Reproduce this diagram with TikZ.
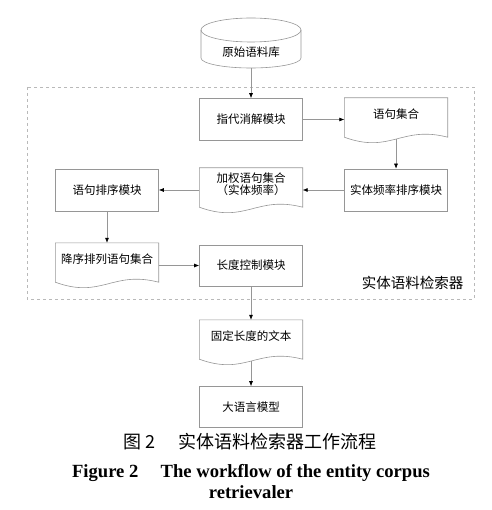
\documentclass[tikz,border=0pt]{standalone}
\usepackage{fontspec}
\setmainfont{Liberation Serif}
\newfontfamily\cjk{Noto Sans CJK SC}
\usetikzlibrary{calc,arrows.meta}
\definecolor{framegray}{RGB}{150,150,150}
\definecolor{dashgray}{RGB}{185,185,185}
\tikzset{
  module/.style={draw=framegray, line width=.6pt, minimum width=103pt, minimum height=42pt, inner sep=0pt, font=\cjk\fontsize{11.5}{14}\selectfont},
  docbox/.style={minimum width=103pt, minimum height=32pt, inner sep=0pt, align=center, font=\cjk\fontsize{11.5}{12.5}\selectfont},
  flow/.style={draw=framegray, line width=.6pt, -{Latex[black,length=5pt,width=4pt]}},
}
% outline of a document node, wavy bottom
\newcommand{\docoutline}[1]{%
  \draw[framegray, line width=.6pt] (#1.north west) -- ($(#1.south west)+(0,7)$)
    .. controls ($(#1.south west)!.45!(#1.south east)+(0,24)$) and ($(#1.south west)!.55!(#1.south east)+(0,-5)$)
    .. ($(#1.south east)+(0,7)$) -- (#1.north east) -- cycle;
  \coordinate (#1 wave) at ($(#1.south)+(0,9)$);}
\begin{document}
\begin{tikzpicture}[x=1pt,y=-1pt]
    \useasboundingbox (0,0) rectangle (491,510);
    % retriever frame
    \draw[dashgray, dashed, line width=.6pt] (27,87) rectangle (474,299);
    \node[anchor=east, font=\cjk\fontsize{14.5}{16}\selectfont] (retriever) at (467,283) {实体语料检索器};

    % corpus database
    \node[font=\cjk\fontsize{11.5}{14}\selectfont] (corpus) at (251,52) {原始语料库};
    \draw[framegray, line width=.6pt] (251,30) ellipse [x radius=50, y radius=12];
    \draw[framegray, line width=.6pt] (201,30) -- (201,58) arc[start angle=180, end angle=0, x radius=50, y radius=10] -- (301,30);
    \coordinate (corpus base) at (251,68);

    \node[module] (coref) at (251,119.5) {指代消解模块};
    \node[docbox] (sentset) at (396,114) {语句集合};
    \node[module] (freqsort) at (396,190) {实体频率排序模块};
    \node[docbox] (weighted) at (251,184) {加权语句集合\\（实体频率）};
    \node[module] (sentsort) at (107,190) {语句排序模块};
    \node[docbox] (descset) at (107,259) {降序排列语句集合};
    \node[module, minimum height=41pt] (lenctrl) at (251,265.5) {长度控制模块};
    \node[docbox] (fixtext) at (251,336) {固定长度的文本};
    \node[module, minimum height=41pt] (llm) at (251,407) {大语言模型};
    \foreach \d in {sentset,weighted,descset,fixtext}
        \docoutline{\d};

    \draw[flow] (corpus base) -- (coref.north);
    \draw[flow] (coref.east) -- (coref.east -| sentset.west);
    \draw[flow] (sentset wave) -- (freqsort.north);
    \draw[flow] (freqsort.west) -- (freqsort.west -| weighted.east);
    \draw[flow] (sentsort.east -| weighted.west) -- (sentsort.east);
    \draw[flow] (sentsort.south) -- (descset.north);
    \draw[flow] (lenctrl.west -| descset.east) -- (lenctrl.west);
    \draw[flow] (lenctrl.south) -- (fixtext.north);
    \draw[flow] (fixtext wave) -- (llm.north);

    % caption
    \node[font=\cjk\fontsize{18}{20}\selectfont] (captioncn) at (250,442) {图 2\hspace{1.3em}实体语料检索器工作流程};
    \node[font=\bfseries\fontsize{18.6}{21}\selectfont, align=center] (captionen) at (251,482) {Figure 2\hspace{1.2em}The workflow of the entity corpus\\retrievaler};
\end{tikzpicture}
\end{document}
